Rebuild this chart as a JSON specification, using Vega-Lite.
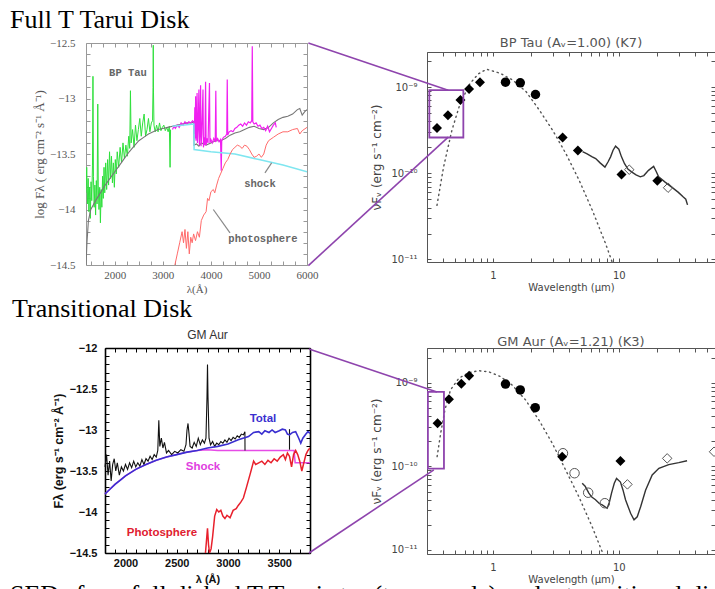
{
 "$schema": "https://vega.github.io/schema/vega-lite/v6.json",
 "padding": {"left": 10, "top": 7, "right": 0, "bottom": 0},
 "background": "white",
 "config": {"view": {"stroke": null}, "axis": {"grid": false}, "title": {"fontWeight": "normal"}},
 "title": {"text": "SEDs for a full disked T Tauri star (top panels) and a transitional disk (bottom panels)", "orient": "bottom", "anchor": "start", "offset": -2, "baseline": "top", "font": "Liberation Serif", "fontSize": 26, "color": "#000"},
 "columns": 2,
 "bounds": "flush",
 "spacing": {"row": 83, "column": 117},
 "datasets": {
  "bp_green": [{"lam":1400,"logf":-13.85},{"lam":1415,"logf":-13.62},{"lam":1430,"logf":-13.95},{"lam":1445,"logf":-13.72},{"lam":1460,"logf":-14.02},{"lam":1475,"logf":-13.8},{"lam":1490,"logf":-14.08},{"lam":1505,"logf":-13.75},{"lam":1520,"logf":-13.92},{"lam":1535,"logf":-13.6},{"lam":1545,"logf":-12.8},{"lam":1555,"logf":-13.7},{"lam":1570,"logf":-13.98},{"lam":1585,"logf":-13.78},{"lam":1600,"logf":-14.05},{"lam":1615,"logf":-13.74},{"lam":1630,"logf":-13.95},{"lam":1645,"logf":-13.05},{"lam":1655,"logf":-13.78},{"lam":1670,"logf":-14.0},{"lam":1685,"logf":-13.8},{"lam":1700,"logf":-14.12},{"lam":1715,"logf":-13.82},{"lam":1730,"logf":-13.98},{"lam":1745,"logf":-13.7},{"lam":1760,"logf":-13.9},{"lam":1775,"logf":-13.62},{"lam":1790,"logf":-13.85},{"lam":1810,"logf":-13.58},{"lam":1830,"logf":-13.82},{"lam":1850,"logf":-13.55},{"lam":1870,"logf":-13.78},{"lam":1890,"logf":-13.48},{"lam":1910,"logf":-13.72},{"lam":1930,"logf":-13.52},{"lam":1950,"logf":-13.76},{"lam":1970,"logf":-13.58},{"lam":1990,"logf":-13.8},{"lam":2010,"logf":-13.55},{"lam":2030,"logf":-13.68},{"lam":2050,"logf":-13.48},{"lam":2080,"logf":-13.62},{"lam":2110,"logf":-13.44},{"lam":2140,"logf":-13.58},{"lam":2170,"logf":-13.4},{"lam":2200,"logf":-13.54},{"lam":2230,"logf":-13.42},{"lam":2260,"logf":-13.52},{"lam":2290,"logf":-13.34},{"lam":2310,"logf":-13.45},{"lam":2325,"logf":-12.93},{"lam":2340,"logf":-13.4},{"lam":2370,"logf":-13.28},{"lam":2400,"logf":-13.44},{"lam":2430,"logf":-13.24},{"lam":2460,"logf":-13.38},{"lam":2490,"logf":-13.28},{"lam":2520,"logf":-13.18},{"lam":2550,"logf":-13.34},{"lam":2580,"logf":-13.22},{"lam":2610,"logf":-13.14},{"lam":2640,"logf":-13.34},{"lam":2670,"logf":-13.28},{"lam":2700,"logf":-13.18},{"lam":2730,"logf":-13.3},{"lam":2760,"logf":-13.22},{"lam":2785,"logf":-13.2},{"lam":2795,"logf":-12.9},{"lam":2800,"logf":-12.52},{"lam":2805,"logf":-12.95},{"lam":2815,"logf":-13.24},{"lam":2840,"logf":-13.3},{"lam":2870,"logf":-13.24},{"lam":2900,"logf":-13.3},{"lam":2930,"logf":-13.22},{"lam":2960,"logf":-13.29},{"lam":2990,"logf":-13.26},{"lam":3020,"logf":-13.24},{"lam":3050,"logf":-13.29},{"lam":3080,"logf":-13.26},{"lam":3110,"logf":-13.3},{"lam":3135,"logf":-13.25},{"lam":3150,"logf":-13.62},{"lam":3160,"logf":-13.28}],
  "bp_gray": [{"lam":1400,"logf":-14.5},{"lam":1420,"logf":-14.3},{"lam":1450,"logf":-14.1},{"lam":1500,"logf":-14.0},{"lam":1600,"logf":-13.92},{"lam":1700,"logf":-13.85},{"lam":1800,"logf":-13.78},{"lam":1900,"logf":-13.72},{"lam":2000,"logf":-13.66},{"lam":2100,"logf":-13.6},{"lam":2200,"logf":-13.54},{"lam":2300,"logf":-13.48},{"lam":2400,"logf":-13.43},{"lam":2500,"logf":-13.38},{"lam":2600,"logf":-13.35},{"lam":2700,"logf":-13.32},{"lam":2800,"logf":-13.3},{"lam":2900,"logf":-13.28},{"lam":3000,"logf":-13.27},{"lam":3100,"logf":-13.26},{"lam":3200,"logf":-13.25},{"lam":3300,"logf":-13.24},{"lam":3400,"logf":-13.23},{"lam":3500,"logf":-13.22},{"lam":3600,"logf":-13.22},{"lam":3640,"logf":-13.21},{"lam":3650,"logf":-13.42},{"lam":3700,"logf":-13.41},{"lam":3750,"logf":-13.43},{"lam":3800,"logf":-13.4},{"lam":3900,"logf":-13.42},{"lam":4000,"logf":-13.4},{"lam":4100,"logf":-13.38},{"lam":4200,"logf":-13.38},{"lam":4300,"logf":-13.36},{"lam":4400,"logf":-13.33},{"lam":4500,"logf":-13.31},{"lam":4600,"logf":-13.3},{"lam":4700,"logf":-13.28},{"lam":4800,"logf":-13.26},{"lam":4900,"logf":-13.25},{"lam":5000,"logf":-13.27},{"lam":5100,"logf":-13.28},{"lam":5200,"logf":-13.26},{"lam":5300,"logf":-13.22},{"lam":5400,"logf":-13.19},{"lam":5500,"logf":-13.17},{"lam":5600,"logf":-13.16},{"lam":5700,"logf":-13.14},{"lam":5800,"logf":-13.1},{"lam":5850,"logf":-13.09},{"lam":5900,"logf":-13.15},{"lam":5950,"logf":-13.12},{"lam":6000,"logf":-13.1}],
  "bp_mag": [{"lam":3200,"logf":-13.28},{"lam":3230,"logf":-13.25},{"lam":3260,"logf":-13.27},{"lam":3300,"logf":-13.24},{"lam":3340,"logf":-13.26},{"lam":3380,"logf":-13.22},{"lam":3420,"logf":-13.24},{"lam":3460,"logf":-13.21},{"lam":3500,"logf":-13.23},{"lam":3540,"logf":-13.21},{"lam":3580,"logf":-13.22},{"lam":3620,"logf":-13.2},{"lam":3645,"logf":-13.22},{"lam":3655,"logf":-13.32},{"lam":3665,"logf":-13.08},{"lam":3672,"logf":-13.36},{"lam":3682,"logf":-12.98},{"lam":3690,"logf":-13.38},{"lam":3700,"logf":-13.3},{"lam":3712,"logf":-12.95},{"lam":3720,"logf":-13.4},{"lam":3735,"logf":-13.25},{"lam":3750,"logf":-12.92},{"lam":3760,"logf":-13.42},{"lam":3772,"logf":-13.3},{"lam":3785,"logf":-12.88},{"lam":3795,"logf":-13.43},{"lam":3810,"logf":-13.32},{"lam":3835,"logf":-12.92},{"lam":3845,"logf":-13.44},{"lam":3860,"logf":-13.35},{"lam":3875,"logf":-13.42},{"lam":3889,"logf":-12.85},{"lam":3900,"logf":-13.42},{"lam":3920,"logf":-13.36},{"lam":3940,"logf":-13.4},{"lam":3970,"logf":-12.86},{"lam":3980,"logf":-13.4},{"lam":4000,"logf":-13.37},{"lam":4030,"logf":-13.4},{"lam":4060,"logf":-13.36},{"lam":4090,"logf":-13.39},{"lam":4102,"logf":-12.93},{"lam":4112,"logf":-13.38},{"lam":4140,"logf":-13.36},{"lam":4170,"logf":-13.39},{"lam":4200,"logf":-13.37},{"lam":4215,"logf":-13.65},{"lam":4225,"logf":-13.38},{"lam":4260,"logf":-13.35},{"lam":4300,"logf":-13.34},{"lam":4330,"logf":-13.32},{"lam":4340,"logf":-12.83},{"lam":4350,"logf":-13.33},{"lam":4380,"logf":-13.3},{"lam":4420,"logf":-13.29},{"lam":4460,"logf":-13.3},{"lam":4500,"logf":-13.27},{"lam":4540,"logf":-13.26},{"lam":4580,"logf":-13.24},{"lam":4620,"logf":-13.23},{"lam":4660,"logf":-13.25},{"lam":4700,"logf":-13.22},{"lam":4740,"logf":-13.24},{"lam":4780,"logf":-13.21},{"lam":4820,"logf":-13.22},{"lam":4850,"logf":-13.2},{"lam":4861,"logf":-12.53},{"lam":4872,"logf":-13.21},{"lam":4900,"logf":-13.23},{"lam":4940,"logf":-13.22},{"lam":4980,"logf":-13.25},{"lam":5020,"logf":-13.24},{"lam":5060,"logf":-13.27},{"lam":5100,"logf":-13.26},{"lam":5140,"logf":-13.29},{"lam":5180,"logf":-13.25},{"lam":5220,"logf":-13.3},{"lam":5260,"logf":-13.27},{"lam":5300,"logf":-13.24},{"lam":5340,"logf":-13.22},{"lam":5360,"logf":-13.26}],
  "bp_cyan": [{"lam":3200,"logf":-13.25},{"lam":3645,"logf":-13.23},{"lam":3650,"logf":-13.46},{"lam":4000,"logf":-13.48},{"lam":4500,"logf":-13.5},{"lam":5000,"logf":-13.55},{"lam":5500,"logf":-13.6},{"lam":6000,"logf":-13.66}],
  "bp_red": [{"lam":3250,"logf":-14.5},{"lam":3300,"logf":-14.4},{"lam":3350,"logf":-14.3},{"lam":3400,"logf":-14.2},{"lam":3430,"logf":-14.3},{"lam":3460,"logf":-14.18},{"lam":3490,"logf":-14.35},{"lam":3520,"logf":-14.2},{"lam":3550,"logf":-14.4},{"lam":3580,"logf":-14.25},{"lam":3610,"logf":-14.3},{"lam":3640,"logf":-14.22},{"lam":3680,"logf":-14.28},{"lam":3720,"logf":-14.2},{"lam":3760,"logf":-14.25},{"lam":3800,"logf":-14.1},{"lam":3850,"logf":-14.05},{"lam":3900,"logf":-14.02},{"lam":3930,"logf":-13.9},{"lam":3960,"logf":-13.92},{"lam":4000,"logf":-13.84},{"lam":4050,"logf":-13.82},{"lam":4080,"logf":-13.85},{"lam":4120,"logf":-13.78},{"lam":4160,"logf":-13.72},{"lam":4200,"logf":-13.68},{"lam":4250,"logf":-13.63},{"lam":4300,"logf":-13.58},{"lam":4350,"logf":-13.55},{"lam":4400,"logf":-13.5},{"lam":4450,"logf":-13.46},{"lam":4500,"logf":-13.44},{"lam":4550,"logf":-13.42},{"lam":4600,"logf":-13.43},{"lam":4650,"logf":-13.45},{"lam":4700,"logf":-13.42},{"lam":4750,"logf":-13.43},{"lam":4800,"logf":-13.46},{"lam":4850,"logf":-13.5},{"lam":4900,"logf":-13.53},{"lam":4950,"logf":-13.52},{"lam":5000,"logf":-13.5},{"lam":5050,"logf":-13.53},{"lam":5100,"logf":-13.5},{"lam":5150,"logf":-13.42},{"lam":5200,"logf":-13.38},{"lam":5300,"logf":-13.35},{"lam":5400,"logf":-13.32},{"lam":5500,"logf":-13.3},{"lam":5600,"logf":-13.3},{"lam":5700,"logf":-13.28},{"lam":5800,"logf":-13.27},{"lam":5850,"logf":-13.32},{"lam":5900,"logf":-13.29},{"lam":6000,"logf":-13.26}],
  "bp_uv_lead": [{"lam":5125,"logf":-13.67,"seg":"s"},{"lam":5264,"logf":-13.58,"seg":"s"},{"lam":4050,"logf":-14.0,"seg":"p"},{"lam":4397,"logf":-14.21,"seg":"p"}],
  "bp_uv_text": [{"lam":2274,"logf":-12.77,"t":"BP Tau"},{"lam":5021,"logf":-13.77,"t":"shock"},{"lam":5084,"logf":-14.27,"t":"photosphere"}],
  "gm_black": [{"lam":1800,"logf":-13.45},{"lam":1815,"logf":-13.3},{"lam":1830,"logf":-13.55},{"lam":1845,"logf":-13.38},{"lam":1860,"logf":-13.62},{"lam":1875,"logf":-13.42},{"lam":1890,"logf":-13.35},{"lam":1905,"logf":-13.5},{"lam":1920,"logf":-13.4},{"lam":1940,"logf":-13.55},{"lam":1960,"logf":-13.45},{"lam":1980,"logf":-13.5},{"lam":2000,"logf":-13.42},{"lam":2020,"logf":-13.48},{"lam":2040,"logf":-13.4},{"lam":2060,"logf":-13.46},{"lam":2080,"logf":-13.38},{"lam":2100,"logf":-13.45},{"lam":2120,"logf":-13.4},{"lam":2140,"logf":-13.44},{"lam":2160,"logf":-13.36},{"lam":2180,"logf":-13.42},{"lam":2200,"logf":-13.35},{"lam":2220,"logf":-13.38},{"lam":2240,"logf":-13.32},{"lam":2260,"logf":-13.36},{"lam":2280,"logf":-13.3},{"lam":2300,"logf":-13.33},{"lam":2315,"logf":-13.25},{"lam":2325,"logf":-12.88},{"lam":2335,"logf":-13.2},{"lam":2350,"logf":-13.1},{"lam":2365,"logf":-13.22},{"lam":2380,"logf":-13.15},{"lam":2400,"logf":-13.28},{"lam":2420,"logf":-13.25},{"lam":2450,"logf":-13.3},{"lam":2480,"logf":-13.26},{"lam":2510,"logf":-13.28},{"lam":2540,"logf":-13.24},{"lam":2570,"logf":-13.26},{"lam":2590,"logf":-13.18},{"lam":2600,"logf":-13.0},{"lam":2610,"logf":-12.92},{"lam":2620,"logf":-13.05},{"lam":2630,"logf":-13.2},{"lam":2650,"logf":-13.22},{"lam":2670,"logf":-13.15},{"lam":2690,"logf":-13.2},{"lam":2710,"logf":-13.1},{"lam":2730,"logf":-13.18},{"lam":2750,"logf":-13.12},{"lam":2770,"logf":-13.16},{"lam":2785,"logf":-13.1},{"lam":2795,"logf":-12.6},{"lam":2800,"logf":-12.2},{"lam":2805,"logf":-12.6},{"lam":2815,"logf":-13.1},{"lam":2830,"logf":-13.18},{"lam":2850,"logf":-13.14},{"lam":2870,"logf":-13.2},{"lam":2890,"logf":-13.16},{"lam":2910,"logf":-13.18},{"lam":2930,"logf":-13.14},{"lam":2950,"logf":-13.16},{"lam":2970,"logf":-13.12},{"lam":2990,"logf":-13.15},{"lam":3010,"logf":-13.1},{"lam":3030,"logf":-13.13},{"lam":3050,"logf":-13.09},{"lam":3070,"logf":-13.11},{"lam":3090,"logf":-13.07},{"lam":3110,"logf":-13.09},{"lam":3130,"logf":-13.05},{"lam":3150,"logf":-13.06},{"lam":3165,"logf":-13.02},{"lam":3166,"logf":-13.25}],
  "gm_blue": [{"lam":1800,"logf":-13.78},{"lam":1850,"logf":-13.72},{"lam":1900,"logf":-13.66},{"lam":1950,"logf":-13.61},{"lam":2000,"logf":-13.56},{"lam":2100,"logf":-13.48},{"lam":2200,"logf":-13.42},{"lam":2300,"logf":-13.37},{"lam":2400,"logf":-13.33},{"lam":2500,"logf":-13.3},{"lam":2600,"logf":-13.27},{"lam":2700,"logf":-13.25},{"lam":2800,"logf":-13.22},{"lam":2900,"logf":-13.2},{"lam":3000,"logf":-13.17},{"lam":3100,"logf":-13.12},{"lam":3200,"logf":-13.08},{"lam":3250,"logf":-13.03},{"lam":3300,"logf":-13.02},{"lam":3330,"logf":-13.05},{"lam":3360,"logf":-13.01},{"lam":3400,"logf":-13.03},{"lam":3430,"logf":-13.0},{"lam":3460,"logf":-13.03},{"lam":3500,"logf":-13.01},{"lam":3530,"logf":-12.99},{"lam":3560,"logf":-13.0},{"lam":3580,"logf":-13.05},{"lam":3600,"logf":-13.06},{"lam":3630,"logf":-13.03},{"lam":3660,"logf":-13.02},{"lam":3690,"logf":-13.1},{"lam":3710,"logf":-13.16},{"lam":3730,"logf":-13.1},{"lam":3760,"logf":-13.05},{"lam":3780,"logf":-13.02},{"lam":3800,"logf":-13.04}],
  "gm_mag": [{"lam":1800,"logf":-13.78},{"lam":1900,"logf":-13.66},{"lam":2000,"logf":-13.56},{"lam":2100,"logf":-13.48},{"lam":2200,"logf":-13.42},{"lam":2300,"logf":-13.37},{"lam":2400,"logf":-13.33},{"lam":2500,"logf":-13.3},{"lam":2600,"logf":-13.27},{"lam":2700,"logf":-13.25},{"lam":2800,"logf":-13.24},{"lam":2900,"logf":-13.25},{"lam":3645,"logf":-13.25},{"lam":3655,"logf":-13.4},{"lam":3800,"logf":-13.4}],
  "gm_red": [{"lam":2780,"logf":-14.5},{"lam":2790,"logf":-14.35},{"lam":2800,"logf":-14.2},{"lam":2810,"logf":-14.4},{"lam":2820,"logf":-14.5},{"lam":2835,"logf":-14.45},{"lam":2850,"logf":-14.3},{"lam":2870,"logf":-14.05},{"lam":2890,"logf":-13.97},{"lam":2910,"logf":-14.0},{"lam":2930,"logf":-13.98},{"lam":2950,"logf":-14.05},{"lam":2970,"logf":-14.08},{"lam":2990,"logf":-14.04},{"lam":3020,"logf":-14.07},{"lam":3050,"logf":-13.98},{"lam":3080,"logf":-13.96},{"lam":3100,"logf":-13.92},{"lam":3125,"logf":-13.88},{"lam":3150,"logf":-13.83},{"lam":3180,"logf":-13.7},{"lam":3220,"logf":-13.52},{"lam":3250,"logf":-13.38},{"lam":3270,"logf":-13.42},{"lam":3300,"logf":-13.4},{"lam":3330,"logf":-13.38},{"lam":3360,"logf":-13.42},{"lam":3390,"logf":-13.37},{"lam":3420,"logf":-13.4},{"lam":3450,"logf":-13.35},{"lam":3480,"logf":-13.38},{"lam":3510,"logf":-13.33},{"lam":3540,"logf":-13.3},{"lam":3560,"logf":-13.36},{"lam":3580,"logf":-13.28},{"lam":3600,"logf":-13.32},{"lam":3620,"logf":-13.45},{"lam":3640,"logf":-13.3},{"lam":3660,"logf":-13.25},{"lam":3680,"logf":-13.3},{"lam":3700,"logf":-13.38},{"lam":3720,"logf":-13.5},{"lam":3740,"logf":-13.4},{"lam":3760,"logf":-13.3},{"lam":3780,"logf":-13.25},{"lam":3800,"logf":-13.22}],
  "gm_bar": [{"lam":3600,"logf":-12.99},{"lam":3600,"logf":-13.24}],
  "gm_uv_text": [{"lam":3341,"logf":-12.86,"t":"Total"},{"lam":2756,"logf":-13.45,"t":"Shock"},{"lam":2356,"logf":-14.25,"t":"Photosphere"}],
  "bp_pts": [{"lam":0.36,"f":3.36e-10,"m":"fd"},{"lam":0.44,"f":4.72e-10,"m":"fd"},{"lam":0.553,"f":7.06e-10,"m":"fd"},{"lam":0.647,"f":9.5e-10,"m":"fd"},{"lam":0.79,"f":1.14e-9,"m":"fd"},{"lam":1.26,"f":1.14e-9,"m":"fc"},{"lam":1.65,"f":1.12e-9,"m":"fc"},{"lam":2.18,"f":8.2e-10,"m":"fc"},{"lam":3.58,"f":2.6e-10,"m":"fd"},{"lam":4.73,"f":1.84e-10,"m":"fd"},{"lam":10.5,"f":9.7e-11,"m":"fd"},{"lam":20.2,"f":8.2e-11,"m":"fd"},{"lam":12.1,"f":1.1e-10,"m":"od"},{"lam":24.6,"f":6.8e-11,"m":"od"}],
  "bp_irs": [{"lam":5.15,"f":1.78e-10},{"lam":5.6,"f":1.68e-10},{"lam":6.1,"f":1.56e-10},{"lam":6.55,"f":1.48e-10},{"lam":7.1,"f":1.32e-10},{"lam":7.76,"f":1.18e-10},{"lam":8.2,"f":1.35e-10},{"lam":8.6,"f":1.55e-10},{"lam":9.0,"f":1.85e-10},{"lam":9.42,"f":2.06e-10},{"lam":10.0,"f":1.9e-10},{"lam":10.5,"f":1.55e-10},{"lam":11.1,"f":1.29e-10},{"lam":11.8,"f":1.12e-10},{"lam":12.7,"f":1.03e-10},{"lam":13.7,"f":9.6e-11},{"lam":14.8,"f":9.1e-11},{"lam":15.8,"f":9.4e-11},{"lam":17.2,"f":1.08e-10},{"lam":18.9,"f":1.2e-10},{"lam":19.8,"f":1.05e-10},{"lam":20.7,"f":9.1e-11},{"lam":23.3,"f":7.9e-11},{"lam":26.3,"f":6.9e-11},{"lam":29.7,"f":6.0e-11},{"lam":32.5,"f":5.3e-11},{"lam":34.0,"f":5.0e-11},{"lam":35.1,"f":4.3e-11}],
  "bp_phot": [{"lam":0.36,"f":4.25e-11},{"lam":0.406,"f":1.18e-10},{"lam":0.473,"f":3.16e-10},{"lam":0.55,"f":6.46e-10},{"lam":0.659,"f":1.1e-9},{"lam":0.766,"f":1.42e-9},{"lam":0.892,"f":1.61e-9},{"lam":1.135,"f":1.45e-9},{"lam":1.445,"f":1.2e-9},{"lam":1.84,"f":8.8e-10},{"lam":2.34,"f":5.4e-10},{"lam":2.98,"f":3.16e-10},{"lam":3.8,"f":1.69e-10},{"lam":4.84,"f":8.3e-11},{"lam":6.17,"f":3.7e-11},{"lam":7.86,"f":1.52e-11},{"lam":8.86,"f":9.3e-12}],
  "gm_pts": [{"lam":0.364,"f":3.29e-10,"m":"fd"},{"lam":0.448,"f":6.37e-10,"m":"fd"},{"lam":0.562,"f":9.8e-10,"m":"fd"},{"lam":0.648,"f":1.22e-9,"m":"fd"},{"lam":1.26,"f":9.7e-10,"m":"fc"},{"lam":1.65,"f":8.25e-10,"m":"fc"},{"lam":2.17,"f":5.06e-10,"m":"fc"},{"lam":3.55,"f":1.31e-10,"m":"fd"},{"lam":10.3,"f":1.16e-10,"m":"fd"},{"lam":3.6,"f":1.44e-10,"m":"oc"},{"lam":4.45,"f":8.3e-11,"m":"oc"},{"lam":5.71,"f":4.85e-11,"m":"oc"},{"lam":7.74,"f":3.63e-11,"m":"oc"},{"lam":11.7,"f":6.1e-11,"m":"od"},{"lam":24.2,"f":1.25e-10,"m":"od"},{"lam":57,"f":1.5e-10,"m":"od"}],
  "gm_irs": [{"lam":5.12,"f":6.3e-11},{"lam":5.4,"f":5.8e-11},{"lam":5.78,"f":4.8e-11},{"lam":6.1,"f":4.3e-11},{"lam":6.53,"f":4.0e-11},{"lam":7.0,"f":3.6e-11},{"lam":7.38,"f":3.47e-11},{"lam":8.08,"f":3.16e-11},{"lam":8.4,"f":3.7e-11},{"lam":8.75,"f":4.8e-11},{"lam":9.2,"f":6.3e-11},{"lam":9.59,"f":7.2e-11},{"lam":10.3,"f":6.5e-11},{"lam":10.8,"f":5.2e-11},{"lam":11.3,"f":4.0e-11},{"lam":12.4,"f":2.75e-11},{"lam":13.2,"f":2.3e-11},{"lam":14.0,"f":2.5e-11},{"lam":14.9,"f":3.3e-11},{"lam":16.3,"f":5.2e-11},{"lam":18.4,"f":7.9e-11},{"lam":20.8,"f":9.5e-11},{"lam":24.9,"f":1.05e-10},{"lam":29.9,"f":1.11e-10},{"lam":34.8,"f":1.17e-10}],
  "gm_phot": [{"lam":0.361,"f":1.31e-10},{"lam":0.385,"f":2.49e-10},{"lam":0.416,"f":4.75e-10},{"lam":0.461,"f":8.24e-10},{"lam":0.537,"f":1.14e-9},{"lam":0.645,"f":1.33e-9},{"lam":0.774,"f":1.4e-9},{"lam":0.929,"f":1.36e-9},{"lam":1.15,"f":1.19e-9},{"lam":1.42,"f":9.46e-10},{"lam":1.82,"f":6.25e-10},{"lam":2.32,"f":3.6e-10},{"lam":2.96,"f":1.9e-10},{"lam":3.78,"f":9.1e-11},{"lam":4.81,"f":4.36e-11},{"lam":6.14,"f":1.9e-11},{"lam":7.38,"f":9.5e-12}]
 },
 "concat": [
  {
   "width": 221, "height": 222,
   "title": {"text": "Full T Tarui Disk", "anchor": "start", "frame": "group", "dx": -76, "offset": -17, "baseline": "alphabetic", "font": "Liberation Serif", "fontSize": 26, "color": "#000"},
   "resolve": {"axis": {"x": "independent", "y": "independent"}},
   "layer": [
    {"data": {"name": "bp_green"}, "mark": {"type": "line", "color": "#2fe03c", "strokeWidth": 1, "clip": true},
     "encoding": {
      "x": {"field": "lam", "type": "quantitative", "scale": {"domain": [1400, 6000], "nice": false, "zero": false},
            "axis": {"values": [1500,1750,2000,2250,2500,2750,3000,3250,3500,3750,4000,4250,4500,4750,5000,5250,5500,5750,6000], "labelExpr": "datum.value % 1000 == 0 ? format(datum.value, 'd') : ''", "labelOverlap": false, "labelFlush": false, "tickSize": -4, "labelPadding": 8, "labelFont": "Liberation Serif", "labelFontSize": 11, "labelColor": "#555", "domainColor": "#999", "tickColor": "#999", "title": "λ(Å)", "titleFont": "Liberation Serif", "titleFontSize": 11, "titleFontWeight": "normal", "titleColor": "#555", "titlePadding": 3}},
      "y": {"field": "logf", "type": "quantitative", "scale": {"domain": [-14.5, -12.5], "nice": false, "zero": false},
            "axis": {"values": [-14.5,-14.4,-14.3,-14.2,-14.1,-14,-13.9,-13.8,-13.7,-13.6,-13.5,-13.4,-13.3,-13.2,-13.1,-13,-12.9,-12.8,-12.7,-12.6,-12.5], "labelExpr": "abs(datum.value*2 - round(datum.value*2)) < 0.01 ? format(datum.value, '.1~f') : ''", "labelOverlap": false, "labelFlush": false, "tickSize": -4, "labelPadding": 15, "labelFont": "Liberation Serif", "labelFontSize": 11, "labelColor": "#555", "domainColor": "#999", "tickColor": "#999", "title": "log Fλ ( erg cm⁻² s⁻¹ Å⁻¹)", "titleFont": "Liberation Serif", "titleFontSize": 13, "titleFontWeight": "normal", "titleColor": "#555", "titlePadding": 3}}
     }},
    {"data": {"name": "bp_gray"}, "mark": {"type": "line", "color": "#777", "strokeWidth": 1.1, "clip": true},
     "encoding": {"x": {"field": "lam", "type": "quantitative", "axis": null}, "y": {"field": "logf", "type": "quantitative", "axis": null}}},
    {"data": {"name": "bp_mag"}, "mark": {"type": "line", "color": "#f020f0", "strokeWidth": 1.2, "clip": true},
     "encoding": {"x": {"field": "lam", "type": "quantitative", "axis": null}, "y": {"field": "logf", "type": "quantitative", "axis": null}}},
    {"data": {"name": "bp_cyan"}, "mark": {"type": "line", "color": "#7fe6f0", "strokeWidth": 1.5, "clip": true},
     "encoding": {"x": {"field": "lam", "type": "quantitative", "axis": null}, "y": {"field": "logf", "type": "quantitative", "axis": null}}},
    {"data": {"name": "bp_red"}, "mark": {"type": "line", "color": "#ff6b6b", "strokeWidth": 1, "clip": true},
     "encoding": {"x": {"field": "lam", "type": "quantitative", "axis": null}, "y": {"field": "logf", "type": "quantitative", "axis": null}}},
    {"data": {"name": "bp_uv_lead"}, "mark": {"type": "line", "color": "#888", "strokeWidth": 1.2, "clip": true},
     "encoding": {"x": {"field": "lam", "type": "quantitative", "axis": null}, "y": {"field": "logf", "type": "quantitative", "axis": null}, "detail": {"field": "seg"}}},
    {"data": {"name": "bp_uv_text"}, "mark": {"type": "text", "font": "Liberation Mono", "fontSize": 10.5, "fontWeight": "bold", "color": "#666"},
     "encoding": {
      "x": {"field": "lam", "type": "quantitative", "scale": {"domain": [1400, 6000], "nice": false, "zero": false},
            "axis": {"orient": "top", "values": [1500,1750,2000,2250,2500,2750,3000,3250,3500,3750,4000,4250,4500,4750,5000,5250,5500,5750,6000], "labels": false, "title": null, "tickSize": -4, "domainColor": "#999", "tickColor": "#999"}},
      "y": {"field": "logf", "type": "quantitative", "scale": {"domain": [-14.5, -12.5], "nice": false, "zero": false},
            "axis": {"orient": "right", "values": [-14.5,-14.4,-14.3,-14.2,-14.1,-14,-13.9,-13.8,-13.7,-13.6,-13.5,-13.4,-13.3,-13.2,-13.1,-13,-12.9,-12.8,-12.7,-12.6,-12.5], "labels": false, "title": null, "tickSize": -4, "domainColor": "#999", "tickColor": "#999"}},
      "text": {"field": "t"}
     }}
   ]
  },
  {
   "width": 288, "height": 219,
   "title": {"text": "BP Tau (Aᵥ=1.00) (K7)", "anchor": "middle", "frame": "group", "baseline": "middle", "offset": -16, "font": "DejaVu Sans", "fontSize": 13, "color": "#555"},
   "resolve": {"axis": {"x": "independent", "y": "independent"}},
   "layer": [
    {"data": {"name": "bp_phot"}, "mark": {"type": "line", "color": "#555", "strokeWidth": 1.4, "strokeDash": [1.2, 3.8], "strokeCap": "round", "clip": true},
     "encoding": {
      "x": {"field": "lam", "type": "quantitative", "scale": {"type": "log", "domain": [0.3, 58], "nice": false},
            "axis": {"values": [0.3,0.4,0.5,0.6,0.7,0.8,0.9,1,2,3,4,5,6,7,8,9,10,20,30,40,50], "labelExpr": "datum.value == 1 ? '1' : (datum.value == 10 ? '10' : '')", "labelOverlap": false, "labelFlush": false, "tickSize": -4, "labelPadding": 12, "labelFont": "DejaVu Sans", "labelFontSize": 10, "labelColor": "#444", "domainColor": "#555", "tickColor": "#555", "title": "Wavelength (µm)", "titleFont": "DejaVu Sans", "titleFontSize": 10, "titleFontWeight": "normal", "titleColor": "#444", "titlePadding": 2}},
      "y": {"field": "f", "type": "quantitative", "scale": {"type": "log", "domain": [9.35e-12, 2.55e-9], "range": [219, 9], "nice": false},
            "axis": {"values": [1e-11,2e-11,3e-11,4e-11,5e-11,6e-11,7e-11,8e-11,9e-11,1e-10,2e-10,3e-10,4e-10,5e-10,6e-10,7e-10,8e-10,9e-10,1e-9,2e-9], "labelExpr": "datum.value == 1e-9 ? '10⁻⁹' : (datum.value == 1e-10 ? '10⁻¹⁰' : (datum.value == 1e-11 ? '10⁻¹¹' : ''))", "labelOverlap": false, "labelFlush": false, "tickSize": -4, "labelPadding": 14, "labelFont": "DejaVu Sans", "labelFontSize": 10, "labelColor": "#444", "domainColor": "#555", "tickColor": "#555", "title": "νFᵥ (erg s⁻¹ cm⁻²)", "titleFont": "DejaVu Sans", "titleFontSize": 12, "titleFontWeight": "normal", "titleColor": "#444", "titlePadding": 7}}
     }},
    {"data": {"name": "bp_irs"}, "mark": {"type": "line", "color": "#333", "strokeWidth": 1.4, "clip": true},
     "encoding": {
      "x": {"field": "lam", "type": "quantitative", "scale": {"type": "log", "domain": [0.3, 58], "nice": false},
            "axis": {"orient": "top", "offset": -9, "values": [0.3,0.4,0.5,0.6,0.7,0.8,0.9,1,2,3,4,5,6,7,8,9,10,20,30,40,50], "labels": false, "title": null, "tickSize": -4, "domainColor": "#555", "tickColor": "#555"}},
      "y": {"field": "f", "type": "quantitative", "scale": {"type": "log", "domain": [9.35e-12, 2.55e-9], "range": [219, 9], "nice": false},
            "axis": {"orient": "right", "values": [1e-11,2e-11,3e-11,4e-11,5e-11,6e-11,7e-11,8e-11,9e-11,1e-10,2e-10,3e-10,4e-10,5e-10,6e-10,7e-10,8e-10,9e-10,1e-9,2e-9], "labels": false, "title": null, "tickSize": -4, "domainColor": "#555", "tickColor": "#555"}}
     }},
    {"data": {"name": "bp_pts"}, "transform": [{"filter": "datum.m == 'fd'"}], "mark": {"type": "point", "shape": "diamond", "filled": true, "color": "#000", "size": 100, "opacity": 1},
     "encoding": {"x": {"field": "lam", "type": "quantitative", "axis": null}, "y": {"field": "f", "type": "quantitative", "axis": null}}},
    {"data": {"name": "bp_pts"}, "transform": [{"filter": "datum.m == 'fc'"}], "mark": {"type": "point", "shape": "circle", "filled": true, "color": "#000", "size": 90, "opacity": 1},
     "encoding": {"x": {"field": "lam", "type": "quantitative", "axis": null}, "y": {"field": "f", "type": "quantitative", "axis": null}}},
    {"data": {"name": "bp_pts"}, "transform": [{"filter": "datum.m == 'od'"}], "mark": {"type": "point", "shape": "diamond", "filled": false, "color": "#555", "size": 90, "strokeWidth": 1, "opacity": 1},
     "encoding": {"x": {"field": "lam", "type": "quantitative", "axis": null}, "y": {"field": "f", "type": "quantitative", "axis": null}}},
    {"data": {"values": [{"x1": 0.313, "x2": 0.583, "y1": 2.6e-10, "y2": 9.2e-10}]}, "mark": {"type": "rect", "filled": false, "color": "#8e44ad", "strokeWidth": 1.8},
     "encoding": {"x": {"field": "x1", "type": "quantitative", "axis": null}, "x2": {"field": "x2"}, "y": {"field": "y1", "type": "quantitative", "axis": null}, "y2": {"field": "y2"}}},
    {"data": {"values": [{"lam": 0.0343, "f": 3.25e-9, "seg": "a"}, {"lam": 0.442, "f": 9.2e-10, "seg": "a"}, {"lam": 0.0343, "f": 8.5e-12, "seg": "b"}, {"lam": 0.442, "f": 2.62e-10, "seg": "b"}]},
     "mark": {"type": "line", "color": "#8e44ad", "strokeWidth": 1.6, "clip": false},
     "encoding": {"x": {"field": "lam", "type": "quantitative", "axis": null}, "y": {"field": "f", "type": "quantitative", "axis": null}, "detail": {"field": "seg"}}}
   ]
  },
  {
   "width": 224, "height": 205,
   "title": {"text": "Transitional Disk", "anchor": "start", "frame": "group", "dx": -74, "offset": -14, "baseline": "alphabetic", "font": "Liberation Serif", "fontSize": 26, "color": "#000"},
   "resolve": {"axis": {"x": "independent", "y": "independent"}},
   "layer": [
    {"data": {"name": "gm_mag"}, "mark": {"type": "line", "color": "#e64ce6", "strokeWidth": 1.5, "clip": true},
     "encoding": {
      "x": {"field": "lam", "type": "quantitative", "scale": {"domain": [1800, 3800], "range": [19, 224], "nice": false, "zero": false},
            "axis": {"values": [1800,1900,2000,2100,2200,2300,2400,2500,2600,2700,2800,2900,3000,3100,3200,3300,3400,3500,3600,3700,3800], "labelExpr": "datum.value % 500 == 0 ? format(datum.value, 'd') : ''", "labelOverlap": false, "labelFlush": false, "tickSize": -4, "labelPadding": 8, "labelFont": "Liberation Sans", "labelFontSize": 11, "labelFontWeight": "bold", "labelColor": "#111", "domainColor": "#000", "domainWidth": 1.6, "tickColor": "#000", "title": "λ (Å)", "titleFont": "Liberation Sans", "titleFontSize": 11, "titleFontWeight": "bold", "titleColor": "#111", "titlePadding": 5}},
      "y": {"field": "logf", "type": "quantitative", "scale": {"domain": [-14.5, -12], "nice": false, "zero": false},
            "axis": {"offset": -19, "values": [-14.5,-14.4,-14.3,-14.2,-14.1,-14,-13.9,-13.8,-13.7,-13.6,-13.5,-13.4,-13.3,-13.2,-13.1,-13,-12.9,-12.8,-12.7,-12.6,-12.5,-12.4,-12.3,-12.2,-12.1,-12], "labelExpr": "abs(datum.value*2 - round(datum.value*2)) < 0.01 ? format(datum.value, '.1~f') : ''", "labelOverlap": false, "labelFlush": false, "tickSize": -4, "labelPadding": 12, "labelFont": "Liberation Sans", "labelFontSize": 11, "labelFontWeight": "bold", "labelColor": "#111", "domainColor": "#000", "domainWidth": 1.6, "tickColor": "#000", "title": "Fλ (erg s⁻¹ cm⁻² Å⁻¹)", "titleFont": "Liberation Sans", "titleFontSize": 12.5, "titleFontWeight": "bold", "titleColor": "#111", "titlePadding": 4}}
     }},
    {"data": {"name": "gm_black"}, "mark": {"type": "line", "color": "#111", "strokeWidth": 1.1, "clip": true},
     "encoding": {"x": {"field": "lam", "type": "quantitative", "axis": null}, "y": {"field": "logf", "type": "quantitative", "axis": null}}},
    {"data": {"name": "gm_bar"}, "mark": {"type": "line", "color": "#111", "strokeWidth": 1.1, "clip": true},
     "encoding": {"x": {"field": "lam", "type": "quantitative", "axis": null}, "y": {"field": "logf", "type": "quantitative", "axis": null}}},
    {"data": {"name": "gm_blue"}, "mark": {"type": "line", "color": "#3a2fd0", "strokeWidth": 1.6, "clip": true},
     "encoding": {"x": {"field": "lam", "type": "quantitative", "axis": null}, "y": {"field": "logf", "type": "quantitative", "axis": null}}},
    {"data": {"name": "gm_red"}, "mark": {"type": "line", "color": "#e8202c", "strokeWidth": 1.5, "clip": true},
     "encoding": {"x": {"field": "lam", "type": "quantitative", "axis": null}, "y": {"field": "logf", "type": "quantitative", "axis": null}}},
    {"data": {"values": [{"lam": 2800, "logf": -12, "t": "GM Aur"}]}, "mark": {"type": "text", "dy": -13, "baseline": "middle", "font": "Liberation Sans", "fontSize": 12, "color": "#333"},
     "encoding": {"x": {"field": "lam", "type": "quantitative", "axis": null}, "y": {"field": "logf", "type": "quantitative", "axis": null}, "text": {"field": "t"}}},
    {"data": {"name": "gm_uv_text"}, "mark": {"type": "text", "font": "Liberation Sans", "fontSize": 11.5, "fontWeight": "bold"},
     "encoding": {
      "x": {"field": "lam", "type": "quantitative", "scale": {"domain": [1800, 3800], "range": [19, 224], "nice": false, "zero": false},
            "axis": {"orient": "top", "values": [1800,1900,2000,2100,2200,2300,2400,2500,2600,2700,2800,2900,3000,3100,3200,3300,3400,3500,3600,3700,3800], "labels": false, "title": null, "tickSize": -4, "domainColor": "#000", "domainWidth": 1.6, "tickColor": "#000"}},
      "y": {"field": "logf", "type": "quantitative", "scale": {"domain": [-14.5, -12], "nice": false, "zero": false},
            "axis": {"orient": "right", "values": [-14.5,-14.4,-14.3,-14.2,-14.1,-14,-13.9,-13.8,-13.7,-13.6,-13.5,-13.4,-13.3,-13.2,-13.1,-13,-12.9,-12.8,-12.7,-12.6,-12.5,-12.4,-12.3,-12.2,-12.1,-12], "labels": false, "title": null, "tickSize": -4, "domainColor": "#000", "domainWidth": 1.6, "tickColor": "#000"}},
      "text": {"field": "t"},
      "color": {"field": "t", "type": "nominal", "scale": {"domain": ["Total", "Shock", "Photosphere"], "range": ["#3a2fd0", "#e040e0", "#e02030"]}, "legend": null}
     }}
   ]
  },
  {
   "width": 288, "height": 206,
   "title": {"text": "GM Aur (Aᵥ=1.21) (K3)", "anchor": "middle", "frame": "group", "baseline": "middle", "offset": -9, "font": "DejaVu Sans", "fontSize": 13, "color": "#555"},
   "resolve": {"axis": {"x": "independent", "y": "independent"}},
   "layer": [
    {"data": {"name": "gm_phot"}, "mark": {"type": "line", "color": "#555", "strokeWidth": 1.4, "strokeDash": [1.2, 3.8], "strokeCap": "round", "clip": true},
     "encoding": {
      "x": {"field": "lam", "type": "quantitative", "scale": {"type": "log", "domain": [0.3, 58], "nice": false},
            "axis": {"values": [0.3,0.4,0.5,0.6,0.7,0.8,0.9,1,2,3,4,5,6,7,8,9,10,20,30,40,50], "labelExpr": "datum.value == 1 ? '1' : (datum.value == 10 ? '10' : '')", "labelOverlap": false, "labelFlush": false, "tickSize": -4, "labelPadding": 12, "labelFont": "DejaVu Sans", "labelFontSize": 10, "labelColor": "#444", "domainColor": "#555", "tickColor": "#555", "title": "Wavelength (µm)", "titleFont": "DejaVu Sans", "titleFontSize": 10, "titleFontWeight": "normal", "titleColor": "#444", "titlePadding": 2}},
      "y": {"field": "f", "type": "quantitative", "scale": {"type": "log", "domain": [8.95e-12, 2.62e-9], "nice": false},
            "axis": {"values": [1e-11,2e-11,3e-11,4e-11,5e-11,6e-11,7e-11,8e-11,9e-11,1e-10,2e-10,3e-10,4e-10,5e-10,6e-10,7e-10,8e-10,9e-10,1e-9,2e-9], "labelExpr": "datum.value == 1e-9 ? '10⁻⁹' : (datum.value == 1e-10 ? '10⁻¹⁰' : (datum.value == 1e-11 ? '10⁻¹¹' : ''))", "labelOverlap": false, "labelFlush": false, "tickSize": -4, "labelPadding": 14, "labelFont": "DejaVu Sans", "labelFontSize": 10, "labelColor": "#444", "domainColor": "#555", "tickColor": "#555", "title": "νFᵥ (erg s⁻¹ cm⁻²)", "titleFont": "DejaVu Sans", "titleFontSize": 12, "titleFontWeight": "normal", "titleColor": "#444", "titlePadding": 7}}
     }},
    {"data": {"name": "gm_irs"}, "mark": {"type": "line", "color": "#333", "strokeWidth": 1.4, "clip": true},
     "encoding": {
      "x": {"field": "lam", "type": "quantitative", "scale": {"type": "log", "domain": [0.3, 58], "nice": false},
            "axis": {"orient": "top", "values": [0.3,0.4,0.5,0.6,0.7,0.8,0.9,1,2,3,4,5,6,7,8,9,10,20,30,40,50], "labels": false, "title": null, "tickSize": -4, "domainColor": "#555", "tickColor": "#555"}},
      "y": {"field": "f", "type": "quantitative", "scale": {"type": "log", "domain": [8.95e-12, 2.62e-9], "nice": false},
            "axis": {"orient": "right", "values": [1e-11,2e-11,3e-11,4e-11,5e-11,6e-11,7e-11,8e-11,9e-11,1e-10,2e-10,3e-10,4e-10,5e-10,6e-10,7e-10,8e-10,9e-10,1e-9,2e-9], "labels": false, "title": null, "tickSize": -4, "domainColor": "#555", "tickColor": "#555"}}
     }},
    {"data": {"name": "gm_pts"}, "transform": [{"filter": "datum.m == 'oc'"}], "mark": {"type": "point", "shape": "circle", "filled": false, "color": "#555", "size": 90, "strokeWidth": 1, "opacity": 1},
     "encoding": {"x": {"field": "lam", "type": "quantitative", "axis": null}, "y": {"field": "f", "type": "quantitative", "axis": null}}},
    {"data": {"name": "gm_pts"}, "transform": [{"filter": "datum.m == 'od'"}], "mark": {"type": "point", "shape": "diamond", "filled": false, "color": "#555", "size": 90, "strokeWidth": 1, "opacity": 1},
     "encoding": {"x": {"field": "lam", "type": "quantitative", "axis": null}, "y": {"field": "f", "type": "quantitative", "axis": null}}},
    {"data": {"name": "gm_pts"}, "transform": [{"filter": "datum.m == 'fd'"}], "mark": {"type": "point", "shape": "diamond", "filled": true, "color": "#000", "size": 100, "opacity": 1},
     "encoding": {"x": {"field": "lam", "type": "quantitative", "axis": null}, "y": {"field": "f", "type": "quantitative", "axis": null}}},
    {"data": {"name": "gm_pts"}, "transform": [{"filter": "datum.m == 'fc'"}], "mark": {"type": "point", "shape": "circle", "filled": true, "color": "#000", "size": 90, "opacity": 1},
     "encoding": {"x": {"field": "lam", "type": "quantitative", "axis": null}, "y": {"field": "f", "type": "quantitative", "axis": null}}},
    {"data": {"values": [{"x1": 0.305, "x2": 0.409, "y1": 9.4e-11, "y2": 7.8e-10}]}, "mark": {"type": "rect", "filled": false, "color": "#8e44ad", "strokeWidth": 1.8},
     "encoding": {"x": {"field": "x1", "type": "quantitative", "axis": null}, "x2": {"field": "x2"}, "y": {"field": "y1", "type": "quantitative", "axis": null}, "y2": {"field": "y2"}}},
    {"data": {"values": [{"lam": 0.0347, "f": 2.55e-9, "seg": "a"}, {"lam": 0.36, "f": 7.8e-10, "seg": "a"}, {"lam": 0.0347, "f": 9.2e-12, "seg": "b"}, {"lam": 0.34, "f": 9.1e-11, "seg": "b"}]},
     "mark": {"type": "line", "color": "#8e44ad", "strokeWidth": 1.6, "clip": false},
     "encoding": {"x": {"field": "lam", "type": "quantitative", "axis": null}, "y": {"field": "f", "type": "quantitative", "axis": null}, "detail": {"field": "seg"}}}
   ]
  }
 ]
}
